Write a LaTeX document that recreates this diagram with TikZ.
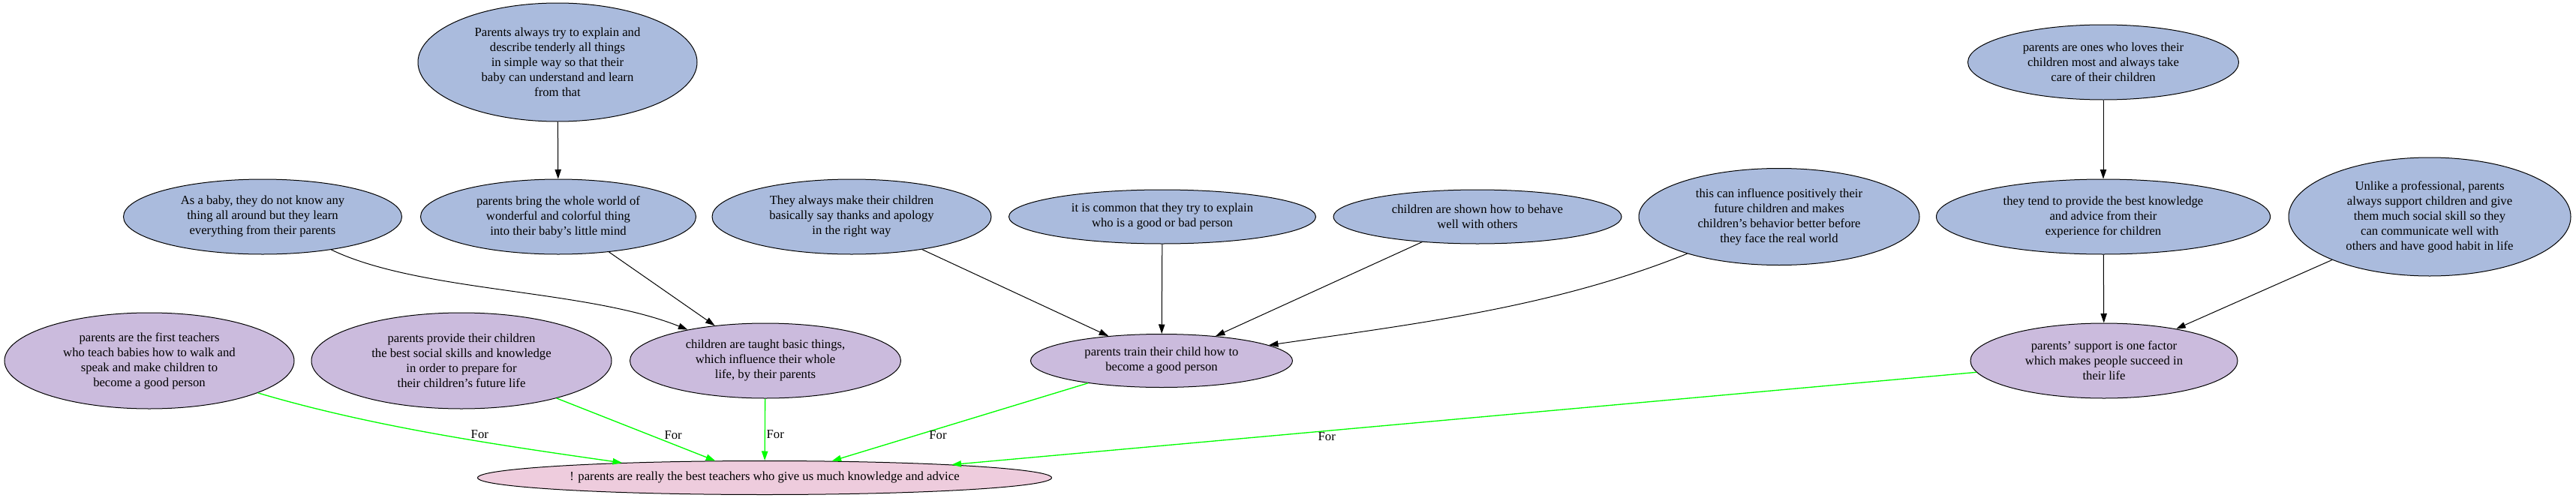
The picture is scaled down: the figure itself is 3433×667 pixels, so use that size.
\documentclass[tikz,border=0pt]{standalone}
\usepackage{fontspec}
\setmainfont{Liberation Serif}
\usetikzlibrary{shapes.geometric,arrows.meta}
\definecolor{argblue}{RGB}{170,187,221}
\definecolor{argpurple}{RGB}{203,187,221}
\definecolor{argpink}{RGB}{238,204,221}
\tikzset{
  idea/.style 2 args={ellipse, draw, line width=0.6pt, align=center, inner sep=0pt,
    minimum width=#1*0.6pt, minimum height=#2*0.6pt, font=\fontsize{10}{12}\selectfont},
  premise/.style 2 args={idea={#1}{#2}, fill=argblue},
  reason/.style 2 args={idea={#1}{#2}, fill=argpurple},
  claim/.style 2 args={idea={#1}{#2}, fill=argpink},
  link/.style={->, line width=0.6pt},
  forlink/.style={->, draw=green, line width=0.8pt},
  forlabel/.style={inner sep=1pt, font=\fontsize{10}{12}\selectfont}
}
\begin{document}
\begin{tikzpicture}[x=0.6pt, y=-0.6pt, >={Triangle[length=7.5pt,width=5pt]}]
\useasboundingbox (0,0) rectangle (3433,667);
\node[premise={372}{158}] (explain) at (743,83) {Parents always try to explain and\\describe tenderly all things\\in simple way so that their\\baby can understand and learn\\from that};
\node[premise={371}{100}] (baby) at (350,289) {As a baby, they do not know any\\thing all around but they learn\\everything from their parents};
\node[premise={367}{100}] (world) at (744,289) {parents bring the whole world of\\wonderful and colorful thing\\into their baby's little mind};
\node[premise={372}{100}] (thanks) at (1135,289) {They always make their children\\basically say thanks and apology\\in the right way};
\node[premise={409}{72}] (common) at (1549,289) {it is common that they try to explain\\who is a good or bad person};
\node[premise={384}{72}] (shown) at (1969,289) {children are shown how to behave\\well with others};
\node[premise={374}{129}] (future) at (2371,289) {this can influence positively their\\future children and makes\\children's behavior better before\\they face the real world};
\node[premise={361}{100}] (loves) at (2803,83) {parents are ones who loves their\\children most and always take\\care of their children};
\node[premise={445}{100}] (advice) at (2803,289) {they tend to provide the best knowledge\\and advice from their\\experience for children};
\node[premise={376}{158}] (unlike) at (3238,289) {Unlike a professional, parents\\always support children and give\\them much social skill so they\\can communicate well with\\others and have good habit in life};
\node[reason={386}{128}] (first) at (199,481) {parents are the first teachers\\who teach babies how to walk and\\speak and make children to\\become a good person};
\node[reason={400}{128}] (social) at (615,481) {parents provide their children\\the best social skills and knowledge\\in order to prepare for\\their children's future life};
\node[reason={361}{100}] (basic) at (1020,481) {children are taught basic things,\\which influence their whole\\life, by their parents};
\node[reason={349}{71}] (train) at (1548,481) {parents train their child how to\\become a good person};
\node[reason={356}{100}] (support) at (2804,481) {parents' support is one factor\\which makes people succeed in\\their life};
\node[claim={765}{45}, inner xsep=-12pt] (root) at (1019,637) {! parents are really the best teachers who give us much knowledge and advice};

\draw[link] (explain)--(world);
\draw[link] (baby) .. controls (560,390) and (780,385) .. (basic);
\draw[link] (world)--(basic);
\draw[link] (thanks)--(train);
\draw[link] (common)--(train);
\draw[link] (shown)--(train);
\draw[link] (future) .. controls (2070,410) and (1885,432) .. (train);
\draw[link] (loves)--(advice);
\draw[link] (advice)--(support);
\draw[link] (unlike)--(support);

\draw[forlink] (first) .. controls (496,569) and (661,593) .. (root.174.5) node[forlabel, pos=0.62, above=1pt]{For};
\draw[forlink] (social)--(root.161.4) node[forlabel, pos=0.59, right=10pt]{For};
\draw[forlink] (basic)--(root) node[forlabel, pos=0.575, right=0pt]{For};
\draw[forlink] (train)--(root.14.1) node[forlabel, pos=0.668, right=8.5pt]{For};
\draw[forlink] (support)--(root.4.4) node[forlabel, pos=0.634, below=0pt]{For};
\end{tikzpicture}
\end{document}
